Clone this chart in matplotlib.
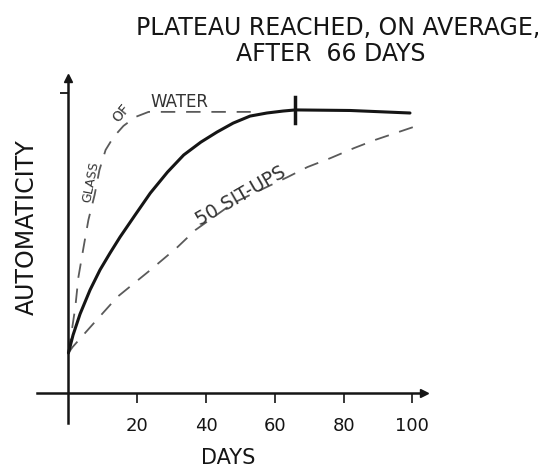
import matplotlib
matplotlib.use('Agg')

import matplotlib.pyplot as plt

# habit curves (days vs automaticity)
solid_days = [0, 1.34, 3.37, 6.28, 9.19, 12.1, 15.0, 19.4, 23.8, 28.8, 33.5, 38.5,
              43.2, 47.9, 52.8, 57.7, 62.4, 66, 81.9, 99.3]
solid_vals = [14.3, 20.7, 28.2, 36.8, 44.0, 50.0, 55.7, 63.6, 71.4, 78.9, 85.0, 89.6,
              93.2, 96.4, 98.9, 100.0, 100.7, 101.1, 100.9, 100]

water_days = [0, 2.0, 2.9, 4.4, 5.8, 7.6, 9.0, 10.8, 13.1, 16.0, 19.5, 23.3, 53]
water_vals = [14.3, 30.7, 41.4, 52.1, 61.8, 70.7, 79.6, 86.8, 91.4, 95.4, 98.6, 100.4, 100.4]

situps_days = [0, 1.2, 6.4, 14.2, 23.8, 31.7, 36.9, 48.0, 63.7, 69.5, 76.2, 83.1, 89.2, 100.3]
situps_vals = [14.3, 16.4, 23.6, 34.3, 43.9, 52.1, 58.2, 67.9, 77.1, 80.7, 83.9, 87.5, 90.4, 95.0]

plateau_day = 66
xtick_vals = [20, 40, 60, 80, 100]
xtick_labels = ['20', '40', '60', '80', '100']

ink = '#151515'
dash_col = '#5a5a5a'

fig = plt.figure(figsize=(5.51, 4.71), dpi=100)
ax = fig.add_axes([0, 0, 1, 1])
ax.set_xlim(-19.9, 140.3)
ax.set_ylim(-27.86, 140.36)

# axes drawn through the origin like the sketch
for side in ['top', 'right']:
    ax.spines[side].set_visible(False)
ax.spines['left'].set_position(('data', 0))
ax.spines['bottom'].set_position(('data', 0))
ax.spines['left'].set_bounds(-10.7, 112)
ax.spines['bottom'].set_bounds(-9.1, 103.5)
for side in ['left', 'bottom']:
    ax.spines[side].set_linewidth(1.8)
    ax.spines[side].set_color(ink)
ax.plot([103.5], [0], marker='>', ms=6, color=ink, clip_on=False)
ax.plot([0], [112.5], marker='^', ms=6, color=ink, clip_on=False)

ax.set_xticks(xtick_vals)
ax.set_xticklabels(xtick_labels)
ax.tick_params(axis='x', direction='out', length=7, width=1.2, pad=10,
               labelsize=13, colors=ink)
ax.set_yticks([107])
ax.set_yticklabels([''])
ax.tick_params(axis='y', direction='out', length=6, width=1.3, colors=ink)

# curves
ax.plot(water_days, water_vals, color=dash_col, lw=1.3, linestyle=(0, (8, 6)))
ax.plot(situps_days, situps_vals, color=dash_col, lw=1.3, linestyle=(0, (8, 6)))
ax.plot(solid_days, solid_vals, color=ink, lw=2.2, solid_capstyle='round')
ax.plot([plateau_day, plateau_day], [96.4, 105.7], color=ink, lw=2.5)

# curve labels
ax.text(6.6, 75.4, 'GLASS', rotation=79, fontsize=9, color='#333',
        ha='center', va='center')
ax.text(15.3, 100, 'OF', rotation=50, fontsize=10, color='#333',
        ha='center', va='center')
ax.text(32.2, 103.9, 'WATER', fontsize=12, color='#333',
        ha='center', va='center')
ax.text(50.0, 70.5, '50 SIT-UPS', rotation=30, fontsize=13.5, color='#333',
        ha='center', va='center')

# titles
ax.text(78.4, 130.4, 'PLATEAU REACHED, ON AVERAGE,', fontsize=17, color=ink,
        ha='center', va='center')
ax.text(76.3, 121.1, 'AFTER  66 DAYS', fontsize=17, color=ink,
        ha='center', va='center')
ax.text(-12.0, 59.3, 'AUTOMATICITY', rotation=90, fontsize=17, color=ink,
        ha='center', va='center')
ax.text(46.4, -23.2, 'DAYS', fontsize=15, color=ink, ha='center', va='center')

plt.savefig('out.png', dpi=100)
